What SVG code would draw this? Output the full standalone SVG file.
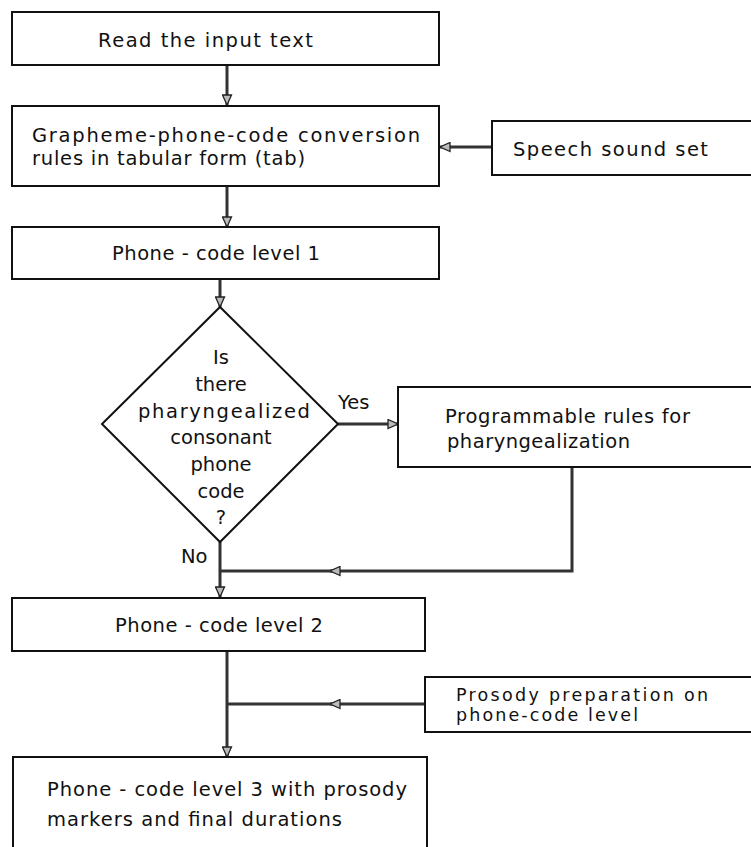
<svg xmlns="http://www.w3.org/2000/svg" width="751" height="847" viewBox="0 0 751 847">
<defs>
<style>
.box{fill:#fff;stroke:#111;stroke-width:2}
.t{font-family:"DejaVu Sans","Liberation Sans",sans-serif;font-size:19.5px;fill:#111}
.s{font-size:17.5px}
.c{fill:none;stroke:#333;stroke-width:3}
.ah{fill:#bbb;stroke:#222;stroke-width:1.3;stroke-linejoin:miter}
</style>
<marker id="arr" viewBox="0 0 11 11" refX="11" refY="5.5" markerWidth="11" markerHeight="11" markerUnits="userSpaceOnUse" orient="auto">
<path d="M1,1 L11,5.5 L1,10 Z" class="ah"/>
</marker>
</defs>
<rect width="751" height="847" fill="#fff"/>
<g id="connectors">
<path class="c" d="M227,65 V105" marker-end="url(#arr)"/>
<path class="c" d="M227,186 V227" marker-end="url(#arr)"/>
<path class="c" d="M492,147 H440" marker-end="url(#arr)"/>
<path class="c" d="M220,279 V307" marker-end="url(#arr)"/>
<path class="c" d="M338,424 H398" marker-end="url(#arr)"/>
<path class="c" d="M220,542 V597" marker-end="url(#arr)"/>
<path class="c" d="M572,467 V571 H331"/>
<path class="c" d="M340,571 H330" marker-end="url(#arr)"/>
<path class="c" d="M331,571 H220"/>
<path class="c" d="M227,651 V757" marker-end="url(#arr)"/>
<path class="c" d="M425,704 H331"/>
<path class="c" d="M340,704 H330" marker-end="url(#arr)"/>
<path class="c" d="M331,704 H227"/>
</g>
<g id="n1">
<rect class="box" x="12" y="12" width="427" height="53"/>
<text class="t" x="98" y="47" textLength="215" lengthAdjust="spacing">Read the input text</text>
</g>
<g id="n2">
<rect class="box" x="12" y="106" width="427" height="80"/>
<text class="t" x="32" y="142" textLength="388" lengthAdjust="spacing">Grapheme-phone-code conversion</text>
<text class="t" x="32" y="165" textLength="273" lengthAdjust="spacing">rules in tabular form (tab)</text>
</g>
<g id="n_speech">
<rect class="box" x="492" y="121" width="270" height="54"/>
<text class="t" x="513" y="156" textLength="195" lengthAdjust="spacing">Speech sound set</text>
</g>
<g id="n3">
<rect class="box" x="12" y="227" width="427" height="52"/>
<text class="t" x="112" y="260" textLength="208" lengthAdjust="spacing">Phone - code level 1</text>
</g>
<g id="n_decision">
<polygon class="box" points="220,307 338,424 220,542 102,424"/>
<text class="t" text-anchor="middle" x="221" y="364">Is</text>
<text class="t" text-anchor="middle" x="221" y="391">there</text>
<text class="t" x="138" y="418" textLength="172" lengthAdjust="spacing">pharyngealized</text>
<text class="t" text-anchor="middle" x="221" y="444">consonant</text>
<text class="t" text-anchor="middle" x="221" y="471">phone</text>
<text class="t" text-anchor="middle" x="221" y="498">code</text>
<text class="t" text-anchor="middle" x="221" y="524">?</text>
<text class="t" x="338" y="409">Yes</text>
<text class="t" x="181" y="563">No</text>
</g>
<g id="n_prog">
<rect class="box" x="398" y="387" width="370" height="80"/>
<text class="t" x="445" y="423" textLength="245" lengthAdjust="spacing">Programmable rules for</text>
<text class="t" x="447" y="448" textLength="183" lengthAdjust="spacing">pharyngealization</text>
</g>
<g id="n4">
<rect class="box" x="12" y="598" width="413" height="53"/>
<text class="t" x="115" y="632" textLength="208" lengthAdjust="spacing">Phone - code level 2</text>
</g>
<g id="n_prosody">
<rect class="box" x="425" y="677" width="340" height="55"/>
<text class="t s" x="456" y="701" textLength="252" lengthAdjust="spacing">Prosody preparation on</text>
<text class="t s" x="456" y="721" textLength="182" lengthAdjust="spacing">phone-code level</text>
</g>
<g id="n5">
<rect class="box" x="13" y="757" width="414" height="110"/>
<text class="t" x="47" y="796" textLength="360" lengthAdjust="spacing">Phone - code level 3 with prosody</text>
<text class="t" x="47" y="826" textLength="295" lengthAdjust="spacing">markers and final durations</text>
</g>
</svg>
